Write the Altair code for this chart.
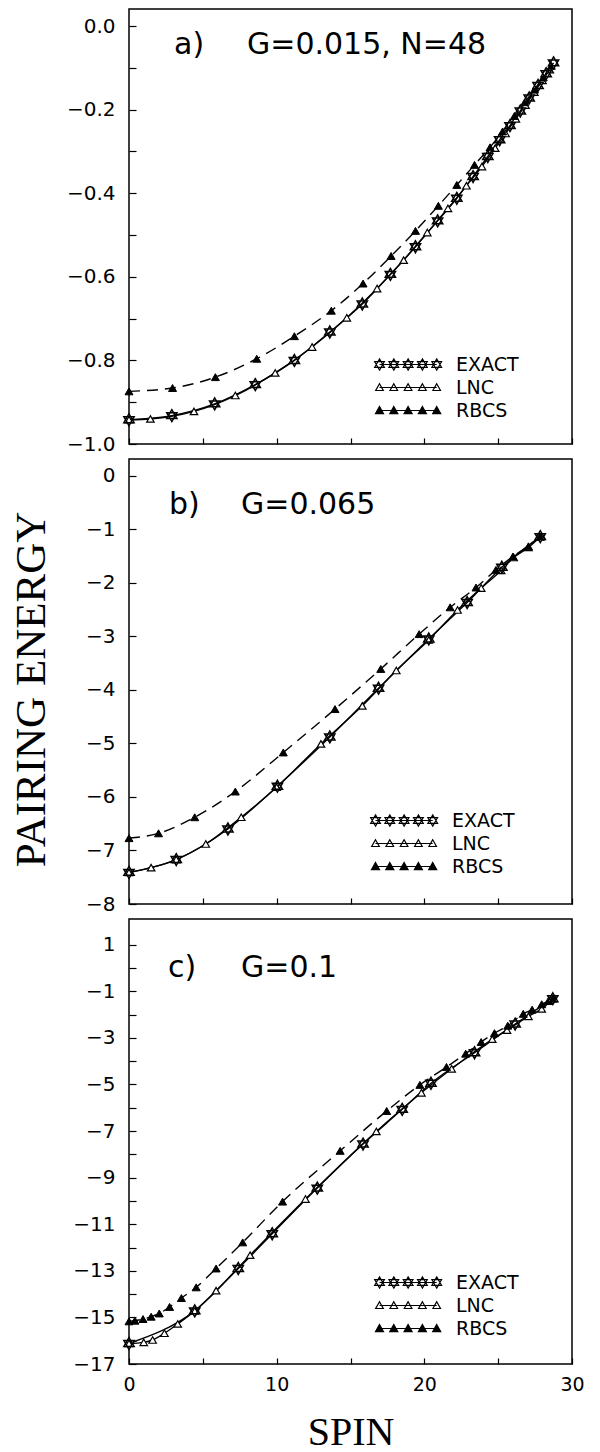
import altair as alt
import pandas as pd

# ---------------- data ----------------
series_names = ["EXACT", "LNC", "RBCS"]
panel_tags = ["a)", "b)", "c)"]
panel_params = ["G=0.015, N=48", "G=0.065", "G=0.1"]

# panel a
a_exact_s = [0, 2.9, 5.8, 8.55, 11.2, 13.6, 15.8, 17.7, 19.4, 20.9, 22.2, 23.3, 24.3, 25.1, 25.8, 26.5, 27.1, 27.7, 28.25, 28.75]
a_exact_e = [-0.942, -0.932, -0.904, -0.858, -0.800, -0.732, -0.665, -0.594, -0.528, -0.466, -0.412, -0.360, -0.312, -0.272, -0.238, -0.203, -0.172, -0.142, -0.114, -0.088]
a_lnc_s = [0, 1.45, 4.4, 7.2, 9.9, 12.4, 14.75, 16.8, 18.6, 20.2, 21.6, 22.85, 23.9, 24.8, 25.5, 26.2, 26.85, 27.45, 28.0, 28.5]
a_lnc_e = [-0.942, -0.940, -0.922, -0.884, -0.830, -0.768, -0.698, -0.628, -0.560, -0.494, -0.436, -0.382, -0.336, -0.292, -0.257, -0.222, -0.189, -0.158, -0.130, -0.104]
a_rbcs_s = [0, 2.95, 5.85, 8.65, 11.2, 13.7, 15.85, 17.75, 19.4, 20.95, 22.2, 23.4, 24.45, 25.3, 26.1, 26.8, 27.45, 28.05, 28.6]
a_rbcs_e = [-0.874, -0.866, -0.840, -0.796, -0.742, -0.681, -0.616, -0.550, -0.490, -0.430, -0.380, -0.332, -0.290, -0.252, -0.215, -0.182, -0.152, -0.123, -0.095]

# panel b
b_exact_s = [0, 3.2, 6.7, 10.05, 13.6, 16.9, 20.3, 22.9, 25.25, 27.85]
b_exact_e = [-7.41, -7.17, -6.60, -5.80, -4.88, -3.97, -3.05, -2.37, -1.71, -1.14]
b_lnc_s = [0, 1.5, 3.2, 5.2, 7.6, 10.0, 13.0, 15.8, 18.1, 20.3, 22.25, 23.85, 25.2, 26.05, 27.05, 27.85]
b_lnc_e = [-7.41, -7.32, -7.17, -6.88, -6.38, -5.82, -5.01, -4.30, -3.64, -3.07, -2.51, -2.10, -1.77, -1.53, -1.34, -1.14]
b_rbcs_s = [0, 2.0, 4.45, 7.2, 10.45, 13.95, 17.05, 19.65, 21.75, 23.5, 24.85, 26.0, 27.05, 27.85]
b_rbcs_e = [-6.77, -6.68, -6.38, -5.90, -5.17, -4.36, -3.61, -2.96, -2.46, -2.09, -1.76, -1.51, -1.32, -1.14]

# panel c
c_exact_s = [0, 4.45, 7.4, 9.7, 12.75, 15.85, 18.5, 20.45, 23.4, 26.15, 28.7]
c_exact_e = [-16.12, -14.72, -12.90, -11.41, -9.45, -7.56, -6.07, -4.95, -3.64, -2.41, -1.32]
c_lnc_s = [0, 1.0, 1.6, 2.4, 3.3, 4.45, 5.9, 8.2, 11.95, 16.75, 19.8, 21.85, 24.6, 25.6, 27.05, 27.95, 28.7]
c_lnc_e = [-16.12, -16.07, -15.97, -15.68, -15.28, -14.72, -13.85, -12.33, -9.92, -7.02, -5.36, -4.33, -3.06, -2.67, -2.08, -1.76, -1.32]
c_rbcs_s = [0, 0.4, 0.95, 1.5, 2.05, 2.75, 3.55, 4.55, 5.9, 7.7, 10.4, 14.3, 17.45, 19.7, 21.5, 22.8, 23.85, 24.75, 25.65, 26.7, 27.3, 27.95, 28.4, 28.75]
c_rbcs_e = [-15.17, -15.14, -15.07, -14.97, -14.83, -14.55, -14.17, -13.71, -12.90, -11.78, -10.03, -7.85, -6.14, -5.02, -4.25, -3.68, -3.18, -2.80, -2.48, -1.97, -1.79, -1.56, -1.42, -1.30]

# axes
x_domain = [0, 30]
x_ticks = [0, 5, 10, 15, 20, 25, 30]
a_y_domain = [-1.0, 0.041]
a_y_ticks = [-1.0, -0.9, -0.8, -0.7, -0.6, -0.5, -0.4, -0.3, -0.2, -0.1, 0.0]
b_y_domain = [-8.0, 0.31]
b_y_ticks = [-8, -7.5, -7, -6.5, -6, -5.5, -5, -4.5, -4, -3.5, -3, -2.5, -2, -1.5, -1, -0.5, 0]
c_y_domain = [-17.0, 2.1]
c_y_ticks = [-17, -16, -15, -14, -13, -12, -11, -10, -9, -8, -7, -6, -5, -4, -3, -2, -1, 0, 1]

# ---------------- symbols ----------------
def hexagram(cx, r):
    h = 0.866 * r
    return (f"M{cx:.3f},{-r:.3f}L{cx + h:.3f},{r / 2:.3f}L{cx - h:.3f},{r / 2:.3f}Z"
            f"M{cx:.3f},{r:.3f}L{cx + h:.3f},{-r / 2:.3f}L{cx - h:.3f},{-r / 2:.3f}Z")


def tri(cx, w, top, bot):
    return f"M{cx:.3f},{top:.3f}L{cx + w:.3f},{bot:.3f}L{cx - w:.3f},{bot:.3f}Z"


STAR = hexagram(0, 1)
leg_centers = [0, 3.575, 7.15, 10.725, 14.3]
leg_line = f"M{leg_centers[0]},0L{leg_centers[-1]},0"
leg_star = leg_line + "".join(hexagram(c, 1.4) for c in leg_centers)
leg_open = leg_line + "".join(tri(c, 0.95, -0.95, 0.75) for c in leg_centers)
leg_fill = leg_line + "".join(tri(c, 1.0, -1.0, 0.8) for c in leg_centers)


def frame(es, ee, ls, le, rs, re_):
    rows = []
    for name, ss, vv in zip(series_names, [es, ls, rs], [ee, le, re_]):
        for s, v in zip(ss, vv):
            rows.append({"series": name, "spin": s, "energy": v})
    return pd.DataFrame(rows)


def panel(df, y_dom, y_ticks, y_fmt, y_expr, height, idx, tag_x, param_x, text_y,
          leg_x, leg_y, show_title, bottom):
    x_kw = dict(values=x_ticks, tickSize=6, offset=-6, domain=False, grid=False,
                tickColor="black", tickWidth=1.2, labelFlush=False)
    if bottom:
        x_kw.update(labels=True, format="d", labelExpr="datum.value % 10 === 0 ? datum.label : ''",
                    labelPadding=11, labelFont="DejaVu Sans", labelFontSize=19, labelColor="black",
                    labelOverlap=False, titleFont="Liberation Serif", titleFontSize=40,
                    titleFontWeight="normal", titleColor="black", titleBaseline="alphabetic",
                    titleY=86)
        x_enc = alt.X("spin:Q", title="SPIN", scale=alt.Scale(domain=x_domain, nice=False, zero=False),
                      axis=alt.Axis(**x_kw))
    else:
        x_kw.update(labels=False)
        x_enc = alt.X("spin:Q", title=None, scale=alt.Scale(domain=x_domain, nice=False, zero=False),
                      axis=alt.Axis(**x_kw))

    y_axis = alt.Axis(values=y_ticks, format=y_fmt, labelExpr=y_expr, tickSize=7, offset=-7,
                      domain=False, grid=False, tickColor="black", tickWidth=1.2, labelPadding=14,
                      labelFont="DejaVu Sans", labelFontSize=20, labelColor="black",
                      labelOverlap=False, labelFlush=False,
                      titleFont="Liberation Serif", titleFontSize=43, titleFontWeight="normal",
                      titleColor="black", titleOpacity=1 if show_title else 0, titleAngle=270,
                      titleAlign="center", titleBaseline="alphabetic", titleX=-92, titleY=230)
    y_enc = alt.Y("energy:Q", title="PAIRING ENERGY",
                  scale=alt.Scale(domain=y_dom, nice=False, zero=False), axis=y_axis)

    base = alt.Chart(df).encode(x=x_enc, y=y_enc)
    f_ex = alt.datum.series == "EXACT"
    f_ln = alt.datum.series == "LNC"
    f_rb = alt.datum.series == "RBCS"

    line_ex = base.transform_filter(f_ex).mark_line(color="black", strokeWidth=1.4, interpolate="monotone")
    line_ln = base.transform_filter(f_ln).mark_line(color="black", strokeWidth=1.4, interpolate="monotone")
    line_rb = base.transform_filter(f_rb).mark_line(color="black", strokeWidth=1.4, interpolate="monotone",
                                                    strokeDash=[11, 7])
    pts_ln = base.transform_filter(f_ln).mark_point(shape="triangle-up", filled=True, fill="white",
                                                    stroke="black", strokeWidth=1.2, size=56, opacity=1)
    pts_rb = base.transform_filter(f_rb).mark_point(shape="triangle-up", filled=True, fill="black",
                                                    stroke="black", strokeWidth=1.0, size=64, opacity=1)
    pts_ex = base.transform_filter(f_ex).mark_point(shape=STAR, filled=True, fill="white",
                                                    stroke="black", strokeWidth=1.5, size=140, opacity=1)

    leg_kw = dict(orient="none", legendX=leg_x, legendY=leg_y, title=None, labelFont="DejaVu Sans",
                  labelFontSize=19, labelColor="black", labelOffset=67, rowPadding=3, padding=0,
                  symbolSize=64, symbolStrokeWidth=1.2)
    leg_df = pd.DataFrame({"series": series_names})
    legend_layer = alt.Chart(leg_df).transform_filter("false").mark_point(
        filled=True, opacity=1, size=64, strokeWidth=1.2
    ).encode(
        fill=alt.Fill("series:N", scale=alt.Scale(domain=series_names, range=["white", "white", "black"]),
                      legend=alt.Legend(**leg_kw)),
        stroke=alt.Stroke("series:N", scale=alt.Scale(domain=series_names, range=["black", "black", "black"]),
                          legend=alt.Legend(**leg_kw)),
        shape=alt.Shape("series:N", scale=alt.Scale(domain=series_names, range=[leg_star, leg_open, leg_fill]),
                        legend=alt.Legend(**leg_kw)),
    )

    txt_df = pd.DataFrame({"tag": [panel_tags[idx]], "param": [panel_params[idx]]})
    tag_layer = alt.Chart(txt_df).mark_text(font="DejaVu Sans", fontSize=30, align="left",
                                            baseline="alphabetic", color="black").encode(
        x=alt.value(tag_x), y=alt.value(text_y), text="tag:N")
    par_layer = alt.Chart(txt_df).mark_text(font="DejaVu Sans", fontSize=30, align="left",
                                            baseline="alphabetic", color="black").encode(
        x=alt.value(param_x), y=alt.value(text_y), text="param:N")

    return alt.layer(line_ex, line_ln, line_rb, pts_ln, pts_rb, pts_ex, legend_layer,
                     tag_layer, par_layer).properties(width=443, height=height)


df_a = frame(a_exact_s, a_exact_e, a_lnc_s, a_lnc_e, a_rbcs_s, a_rbcs_e)
df_b = frame(b_exact_s, b_exact_e, b_lnc_s, b_lnc_e, b_rbcs_s, b_rbcs_e)
df_c = frame(c_exact_s, c_exact_e, c_lnc_s, c_lnc_e, c_rbcs_s, c_rbcs_e)

pa = panel(df_a, a_y_domain, a_y_ticks, ".1f",
           "abs(round(datum.value * 10)) % 2 === 0 ? datum.label : ''",
           435, 0, 45, 118, 45, 241, 346, False, False)
pb = panel(df_b, b_y_domain, b_y_ticks, "d",
           "datum.value % 1 === 0 ? datum.label : ''",
           445, 1, 40, 112, 55, 237, 352, True, False)
pc = panel(df_c, c_y_domain, c_y_ticks, "d",
           "abs(datum.value) % 2 === 1 ? datum.label : ''",
           445, 2, 39, 112, 58, 241, 354, False, True)

chart = alt.vconcat(pa, pb, pc, spacing=3).resolve_scale(
    y="independent", shape="independent", fill="independent", stroke="independent"
).resolve_legend(shape="independent", fill="independent", stroke="independent").properties(
    padding={"left": 1, "top": 0, "right": 6, "bottom": 5}
).configure_view(stroke="black", strokeWidth=1.5)

chart.save("out.html", embed_options={"renderer": "svg", "actions": False})
